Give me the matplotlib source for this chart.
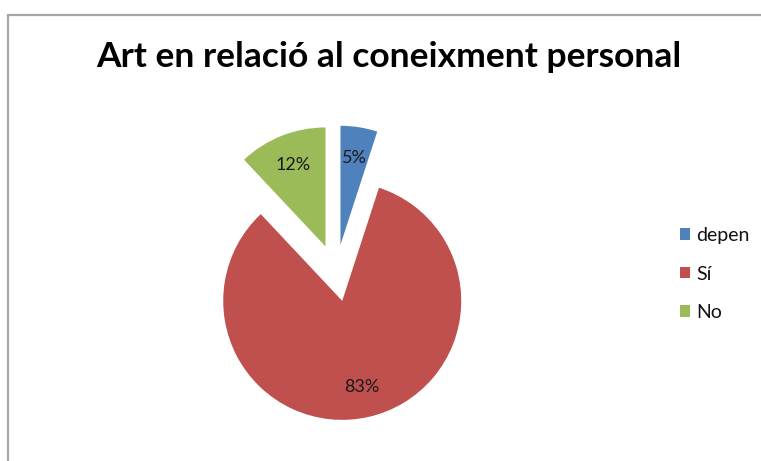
import matplotlib
matplotlib.use("Agg")
import matplotlib.pyplot as plt
from matplotlib.patches import Rectangle

# data
labels = ['depen', 'Sí', 'No']
values = [5, 83, 12]
colors = ['#4F81BD', '#C0504D', '#9BBB59']
explode_frac = [0.24, 0.24, 0.24]

W, H = 761, 461
R = 119
fig = plt.figure(figsize=(W / 100, H / 100), dpi=100)
fig.patch.set_facecolor('white')

# axes in pixel units so the pie sits where the reference puts it
ax = fig.add_axes([0, 0, 1, 1])
ax.set_xlim(0, W)
ax.set_ylim(0, H)
ax.set_aspect('equal')

# matplotlib explode is in data units, so scale by radius
wedges, texts, autotexts = ax.pie(
    values, colors=colors, explode=[e * R for e in explode_frac],
    startangle=90, counterclock=False,
    center=(336, 188), radius=R, autopct='%1.0f%%', pctdistance=0.74,
    textprops={'fontsize': 13, 'color': '#1a1a1a', 'family': 'Lato'},
    frame=True)
ax.axis('off')

# chart frame (only the top and left edges show)
fig.add_artist(Rectangle((8 / W, -0.1), 1.2, (H - 15) / H + 0.1,
                         transform=fig.transFigure, fill=False,
                         edgecolor='#A6A6A6', linewidth=1.6))

fig.text(389 / W, 1 - 57 / H, 'Art en relació al coneixment personal',
         ha='center', va='center', fontsize=25.5, fontweight='bold',
         family='Lato', color='black')

leg = ax.legend(wedges, labels, loc='center left',
                bbox_to_anchor=(662 / W, 1 - 274 / H),
                bbox_transform=fig.transFigure, frameon=False,
                prop={'family': 'Lato', 'size': 14},
                handlelength=0.55, handleheight=0.55, handletextpad=0.3,
                labelspacing=1.1)
for t in leg.get_texts():
    t.set_color('#111111')

fig.savefig('out.png', dpi=100)
